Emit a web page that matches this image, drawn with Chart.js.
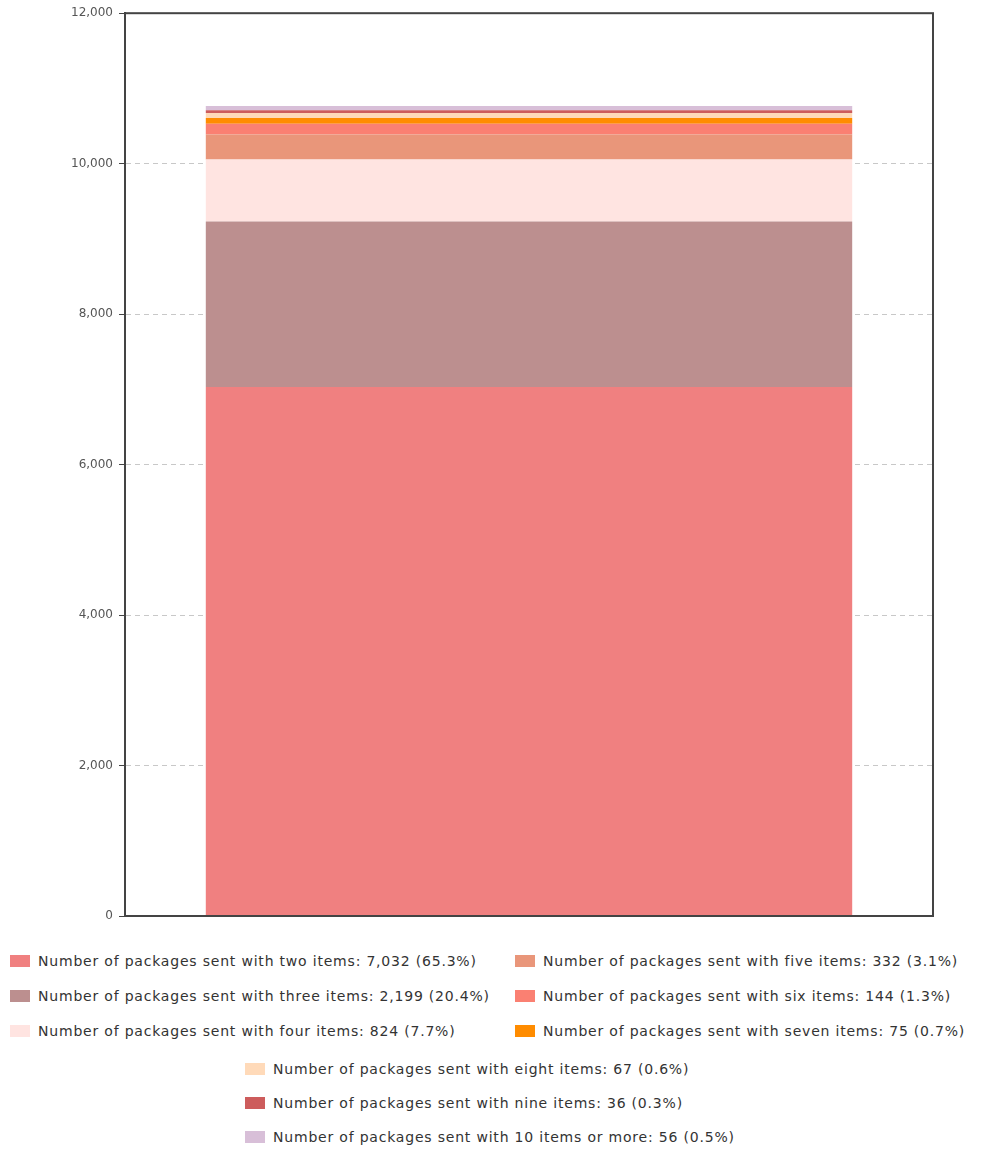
<!DOCTYPE html>
<html>
<head>
<meta charset="utf-8">
<script src="https://cdn.jsdelivr.net/npm/chart.js@4/dist/chart.umd.min.js"></script>
<style>
  body { margin: 0; background: #fff; font-family: "DejaVu Sans", Verdana, sans-serif; }
  #wrap { position: relative; width: 985px; height: 1151px; }
  #chart-box { position: absolute; left: 0; top: 0; width: 985px; height: 935px; }
  #legend { position: absolute; left: 0; top: 0; width: 985px; }
  .item { position: absolute; display: flex; align-items: center; font-size: 14px; letter-spacing: 0.8px; color: #333; white-space: nowrap; }
  .swatch { width: 20px; height: 12px; margin-right: 8px; }
</style>
</head>
<body>
<div id="wrap">
  <div id="chart-box"><canvas id="chart"></canvas></div>
  <div id="legend"></div>
</div>
<script>
const categories = [''];
const seriesNames = [
  'Number of packages sent with two items',
  'Number of packages sent with three items',
  'Number of packages sent with four items',
  'Number of packages sent with five items',
  'Number of packages sent with six items',
  'Number of packages sent with seven items',
  'Number of packages sent with eight items',
  'Number of packages sent with nine items',
  'Number of packages sent with 10 items or more'
];
const seriesValues = [7032, 2199, 824, 332, 144, 75, 67, 36, 56];
const seriesColors = ['#f08080', '#bc8f8f', '#ffe4e1', '#e9967a', '#fa8072', '#ff8c00', '#ffdab9', '#cd5c5c', '#d8bfd8'];
const yTicks = [0, 2000, 4000, 6000, 8000, 10000, 12000];

// legend item positions (left, top) in page px
const legendSlots = [
  [10, 953], [10, 988], [10, 1023],
  [515, 953], [515, 988], [515, 1023],
  [245, 1061], [245, 1095], [245, 1129]
];

const total = seriesValues.reduce((a, b) => a + b, 0);

const frame = {
  id: 'frame',
  afterDraw(chart) {
    const { ctx, chartArea: a } = chart;
    ctx.save();
    ctx.strokeStyle = '#444';
    ctx.lineWidth = 2;
    ctx.strokeRect(a.left, a.top, a.right - a.left, a.bottom - a.top);
    ctx.restore();
  }
};

new Chart(document.getElementById('chart'), {
  type: 'bar',
  data: {
    labels: categories,
    datasets: seriesNames.map((name, i) => ({
      label: name,
      data: [seriesValues[i]],
      backgroundColor: seriesColors[i],
      borderWidth: 0,
      categoryPercentage: 0.8,
      barPercentage: 1
    }))
  },
  options: {
    responsive: true,
    maintainAspectRatio: false,
    animation: false,
    layout: { padding: { top: 12, right: 52, bottom: 19, left: 0 } },
    plugins: { legend: { display: false }, tooltip: { enabled: false } },
    scales: {
      x: { stacked: true, display: false },
      y: {
        stacked: true,
        min: 0,
        max: 12000,
        afterBuildTicks: s => { s.ticks = yTicks.map(v => ({ value: v })); },
        afterFit: s => { s.width = 125; },
        ticks: {
          color: '#555',
          padding: 6,
          font: { family: 'DejaVu Sans', size: 12 },
          callback: v => v.toLocaleString('en-US')
        },
        grid: {
          color: '#c8c8c8',
          tickColor: '#444',
          tickLength: 6,
          tickBorderDash: [0, 0]
        },
        border: { display: true, color: '#444', width: 2, dash: [5, 4] }
      }
    }
  },
  plugins: [frame]
});

const legend = document.getElementById('legend');
seriesNames.forEach((name, i) => {
  const pct = (seriesValues[i] / total * 100).toFixed(1);
  const el = document.createElement('div');
  el.className = 'item';
  el.style.left = legendSlots[i][0] + 'px';
  el.style.top = legendSlots[i][1] + 'px';
  el.innerHTML = `<span class="swatch" style="background:${seriesColors[i]}"></span>` +
    `<span>${name}: ${seriesValues[i].toLocaleString('en-US')} (${pct}%)</span>`;
  legend.appendChild(el);
});
</script>
</body>
</html>
